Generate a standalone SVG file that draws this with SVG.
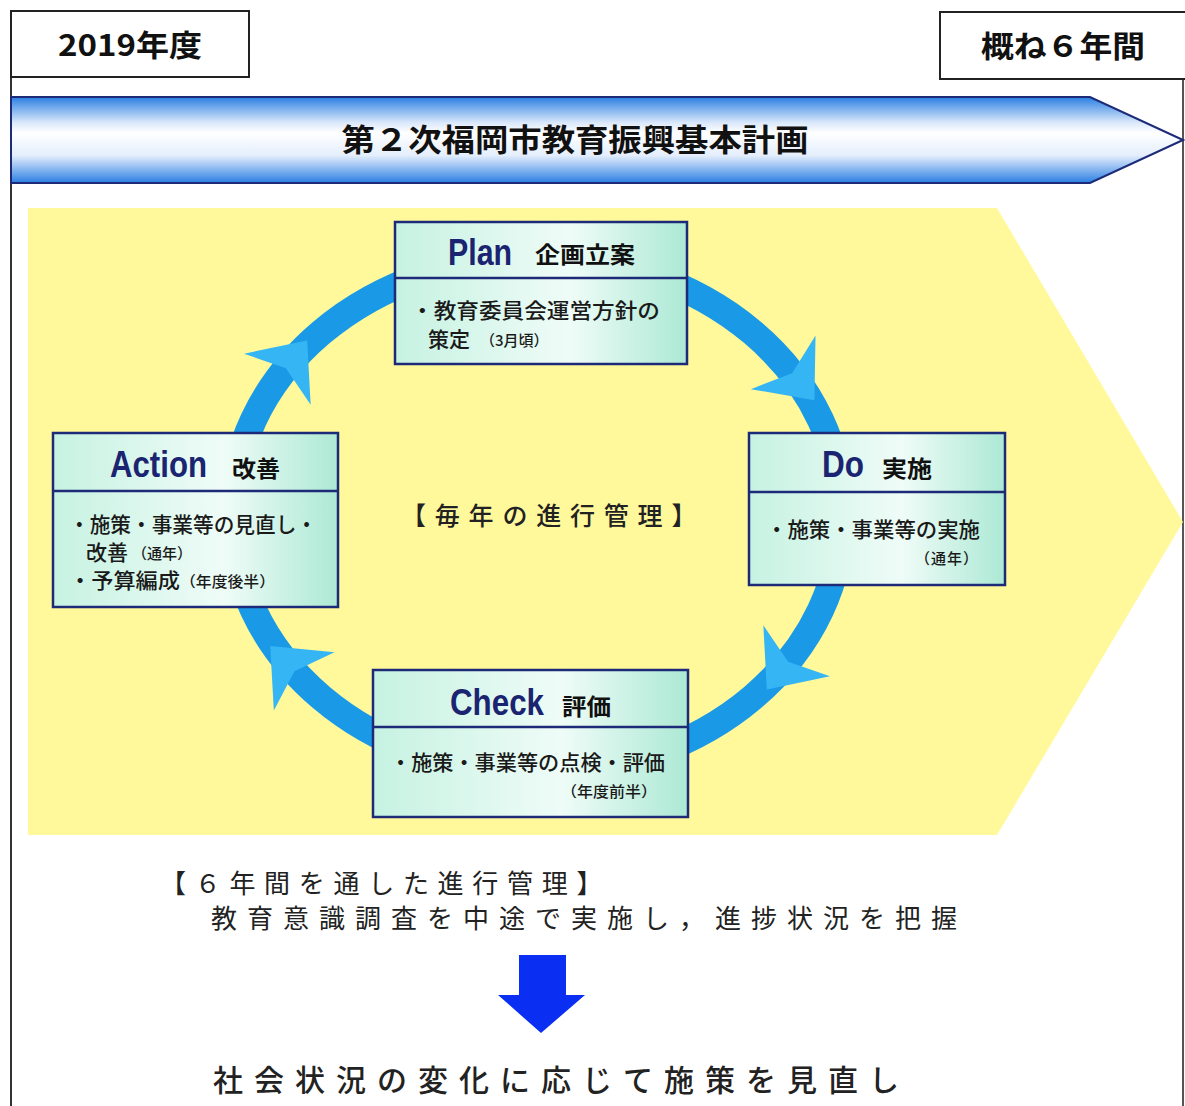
<svg xmlns="http://www.w3.org/2000/svg" width="1185" height="1106" viewBox="0 0 1185 1106">
<style>
.jp{font-family:"Noto Sans CJK JP","Noto Sans",sans-serif;}
.hd{font-family:"Liberation Sans",Arial,sans-serif;font-weight:bold;fill:#1a2470;font-size:36px;}
.hj{font-family:"Noto Sans CJK JP",sans-serif;font-weight:bold;fill:#111;font-size:23px;}
.bd{font-family:"Noto Sans CJK JP",sans-serif;font-weight:500;fill:#1a1a1a;font-size:21px;}
.sm{font-family:"Noto Sans CJK JP",sans-serif;font-weight:500;fill:#1a1a1a;font-size:15px;}
.box{fill:url(#mint);stroke:#1c2a78;stroke-width:2.5;}
.div{stroke:#1c2a78;stroke-width:2.5;}
.frame{fill:#fff;stroke:#222;stroke-width:2;}
.big{font-family:"Noto Sans CJK JP",sans-serif;fill:#222;}
</style>
<defs>
<linearGradient id="mint" x1="0" y1="0" x2="1" y2="0">
<stop offset="0" stop-color="#c6f2e2"/>
<stop offset="0.6" stop-color="#effcf7"/>
<stop offset="1" stop-color="#ace9d4"/>
</linearGradient>
<linearGradient id="banner" x1="0" y1="0" x2="0" y2="1">
<stop offset="0" stop-color="#2a7fe2"/>
<stop offset="0.3" stop-color="#dce9fb"/>
<stop offset="0.42" stop-color="#ffffff"/>
<stop offset="0.68" stop-color="#e4eefc"/>
<stop offset="1" stop-color="#2a7fe2"/>
</linearGradient>
<path id="head" d="M43 0 L-6 -42 L8 0 L-6 42 Z" fill="#36b5f4"/>
</defs>
<rect width="1185" height="1106" fill="#fff"/>
<line x1="11" y1="77" x2="11" y2="1106" stroke="#333" stroke-width="2"/>
<line x1="1183" y1="79" x2="1183" y2="1106" stroke="#555" stroke-width="2"/>
<g id="node-year">
<rect class="frame" x="11" y="11" width="238" height="66"/>
<text x="130" y="56" text-anchor="middle" class="jp" font-weight="bold" font-size="30" fill="#111" textLength="144" lengthAdjust="spacingAndGlyphs">2019年度</text>
</g>
<g id="node-period">
<rect class="frame" x="940" y="12" width="250" height="67"/>
<text x="1063" y="57" text-anchor="middle" class="jp" font-weight="bold" font-size="30" fill="#111" textLength="164" lengthAdjust="spacingAndGlyphs">概ね６年間</text>
</g>
<g id="node-banner">
<polygon points="11,97 1090,97 1183,140 1090,183 11,183" fill="url(#banner)" stroke="#1c2a78" stroke-width="2"/>
<text x="575" y="151" text-anchor="middle" class="jp" font-weight="bold" font-size="31" fill="#111" textLength="467" lengthAdjust="spacingAndGlyphs">第２次福岡市教育振興基本計画</text>
</g>
<g id="node-cycle-area">
<polygon points="28,208 997,208 1183,522 997,835 28,835" fill="#fff99c"/>
<text x="401" y="525" class="big" font-size="25" font-weight="500" letter-spacing="8.8">【毎年の進行管理】</text>
</g>
<g id="connectors">
<ellipse cx="537" cy="515" rx="305" ry="258" fill="none" stroke="#1a9ae6" stroke-width="27"/>
<use href="#head" transform="translate(787,367) rotate(50.4)"/>
<use href="#head" transform="translate(793,655.5) rotate(127.5)"/>
<use href="#head" transform="translate(300,677) rotate(-133.8)"/>
<use href="#head" transform="translate(281,374.5) rotate(-52.5)"/>
<polygon points="519,955 566,955 566,995 585,995 541,1033 498,995 519,995" fill="#0b2ff2"/>
</g>
<g id="node-plan">
<rect class="box" x="395" y="222" width="292" height="142"/>
<line class="div" x1="395" y1="278" x2="687" y2="278"/>
<text x="448" y="265" class="hd" textLength="64" lengthAdjust="spacingAndGlyphs">Plan</text>
<text x="535" y="263" class="hj" textLength="100" lengthAdjust="spacingAndGlyphs">企画立案</text>
<text x="411" y="318" class="bd" textLength="249" lengthAdjust="spacingAndGlyphs">・教育委員会運営方針の</text>
<text x="428" y="347" class="bd">策定</text>
<text x="480" y="346" class="sm">（3月頃）</text>
</g>
<g id="node-do">
<rect class="box" x="749" y="433" width="256" height="152"/>
<line class="div" x1="749" y1="492" x2="1005" y2="492"/>
<text x="822" y="477" class="hd" textLength="42" lengthAdjust="spacingAndGlyphs">Do</text>
<text x="882" y="477" class="hj" textLength="50" lengthAdjust="spacingAndGlyphs">実施</text>
<text x="766" y="537" class="bd" textLength="214" lengthAdjust="spacingAndGlyphs">・施策・事業等の実施</text>
<text x="915" y="564" class="sm" letter-spacing="1">（通年）</text>
</g>
<g id="node-check">
<rect class="box" x="373" y="670" width="315" height="147"/>
<line class="div" x1="373" y1="727" x2="688" y2="727"/>
<text x="450" y="715" class="hd" textLength="94" lengthAdjust="spacingAndGlyphs">Check</text>
<text x="562" y="715" class="hj" textLength="49" lengthAdjust="spacingAndGlyphs">評価</text>
<text x="390" y="770" class="bd" textLength="275" lengthAdjust="spacingAndGlyphs">・施策・事業等の点検・評価</text>
<text x="561" y="797" class="sm" textLength="96" lengthAdjust="spacingAndGlyphs">（年度前半）</text>
</g>
<g id="node-action">
<rect class="box" x="53" y="433" width="285" height="174"/>
<line class="div" x1="53" y1="491" x2="338" y2="491"/>
<text x="110" y="477" class="hd" textLength="97" lengthAdjust="spacingAndGlyphs">Action</text>
<text x="232" y="477" class="hj" textLength="48" lengthAdjust="spacingAndGlyphs">改善</text>
<text x="69" y="532" class="bd" font-size="20" textLength="248" lengthAdjust="spacingAndGlyphs">・施策・事業等の見直し・</text>
<text x="86" y="560" class="bd" font-size="20">改善</text>
<text x="132" y="559" class="sm">（通年）</text>
<text x="69" y="588" class="bd" font-size="20" textLength="111" lengthAdjust="spacingAndGlyphs">・予算編成</text>
<text x="180" y="587" class="sm" textLength="95" lengthAdjust="spacingAndGlyphs">（年度後半）</text>
</g>
<g id="node-notes">
<text x="160" y="893" class="big" font-size="26" letter-spacing="8.7">【６年間を通した進行管理】</text>
<text x="211" y="928" class="big" font-size="26" letter-spacing="10">教育意識調査を中途で実施し，進捗状況を把握</text>
<text x="213" y="1091" class="big" font-size="30" font-weight="500" letter-spacing="11">社会状況の変化に応じて施策を見直し</text>
</g>
</svg>
